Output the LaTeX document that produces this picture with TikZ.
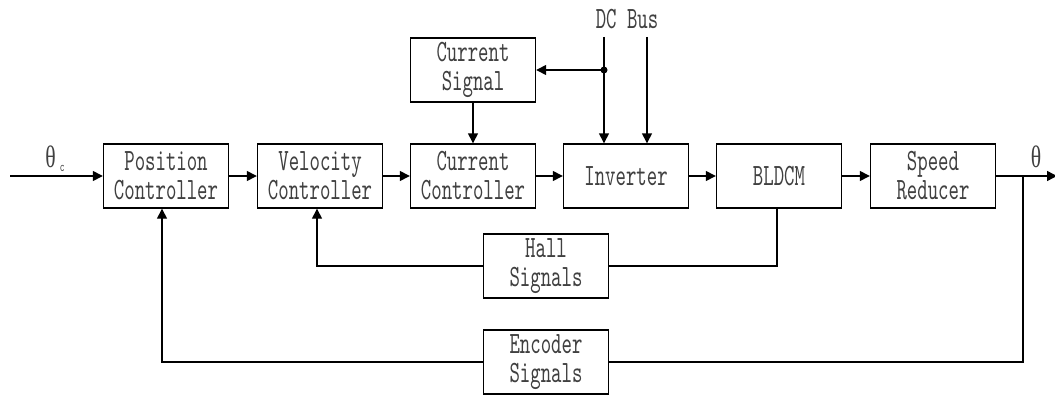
\documentclass[tikz,border=0pt]{standalone}
\usepackage{fontspec}
\newfontfamily\blockfont[FakeStretch=0.64,Extension=.otf]{lmmono10-regular}
\newfontfamily\greekfont[FakeStretch=0.7]{Liberation Serif}
\usetikzlibrary{arrows.meta,positioning}

\begin{document}
\begin{tikzpicture}[x=1pt,y=-1pt,>={Triangle[length=10pt,width=10pt]},line width=1.4pt,
  block/.style={draw,minimum width=125pt,minimum height=64pt,inner sep=0pt,align=center,
    font=\blockfont\fontsize{31}{29}\selectfont,text=black!75},
  lbl/.style={font=\blockfont\fontsize{31}{29}\selectfont,text=black!75,inner sep=0pt}]
\useasboundingbox (0,0) rectangle (1055,396);
% Hauptkette der Regelstrecke
\node[block] (pos) at (166,176) {Position\\Controller};
\node[block] (vel) at (320,176) {Velocity\\Controller};
\node[block] (cc) at (473,176) {Current\\Controller};
\node[block] (inv) at (626,176) {Inverter};
\node[block] (bldcm) at (779,176) {BLDCM};
\node[block] (red) at (933,176) {Speed\\Reducer};
\node[block] (cs) at (473,70) {Current\\Signal};
\node[block] (hall) at (546,266) {Hall\\Signals};
\node[block] (enc) at (546,362) {Encoder\\Signals};
\coordinate (in) at (10,176);
\coordinate (out) at (1057,176);
\coordinate (bra) at (1023,176);
\coordinate (busA) at (604,37);
\coordinate (busB) at (647,37);
\coordinate (dot) at (604,70);
\node[lbl] (bus) at (627,19) {DC Bus};
\node[lbl] (thc) at (55,159) {{\greekfont θ}\hspace{4pt}\raisebox{-4pt}{\fontsize{14}{14}\selectfont c}};
\node[lbl] (th) at (1036,157) {\greekfont θ};
\draw[->] (in) -- (pos);
\draw[->] (pos) -- (vel);
\draw[->] (vel) -- (cc);
\draw[->] (cc) -- (inv);
\draw[->] (inv) -- (bldcm);
\draw[->] (bldcm) -- (red);
\draw[->] (red) -- (out);
% Zwischenkreis und Stromsignal
\draw[->] (busA) -- (busA |- inv.north);
\draw[->] (busB) -- (busB |- inv.north);
\fill (dot) circle (3.5pt);
\draw[->] (dot) -- (cs.east);
\draw[->] (cs) -- (cc);
% Rueckfuehrungen
\draw ([xshift=-2pt]bldcm.south) |- (hall.east);
\draw[->] (hall.west) -| ([xshift=-3pt]vel.south);
\draw (bra) |- (enc.east);
\draw[->] (enc.west) -| ([xshift=-4pt]pos.south);
\end{tikzpicture}
\end{document}
